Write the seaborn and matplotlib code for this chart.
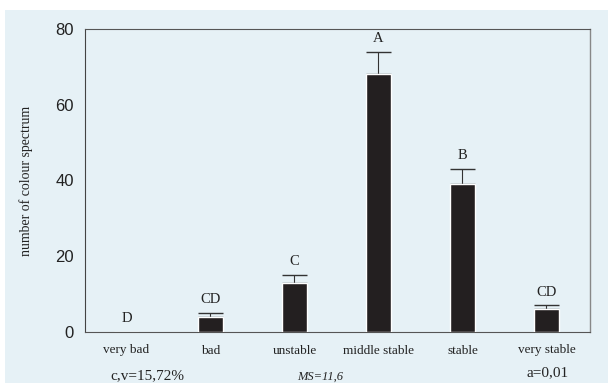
import matplotlib
matplotlib.use("Agg")
import matplotlib.pyplot as plt
import seaborn as sns
import pandas as pd
from matplotlib.patches import Rectangle

# data
categories = ["very bad", "bad", "unstable", "middle stable", "stable", "very stable"]
means = [0, 4, 13, 68, 39, 6]
errors = [0, 1, 2, 6, 4, 1]
letters = ["D", "CD", "C", "A", "B", "CD"]
y_ticks = [0, 20, 40, 60, 80]

sns.set_style("white")
plt.rcParams["font.family"] = ["Liberation Serif", "DejaVu Serif"]

panel = "#e6f1f6"
bar_color = "#231f20"

fig = plt.figure(figsize=(6.08, 3.83), dpi=100)
fig.patch.set_facecolor("white")
fig.patches.append(Rectangle((5 / 608, 0), 1, (383 - 10) / 383, transform=fig.transFigure,
                             facecolor=panel, edgecolor="none", zorder=-10))

ax = fig.add_axes([85 / 608, (383 - 332) / 383, (590 - 85) / 608, (332 - 29) / 383])
ax.set_facecolor(panel)

df = pd.DataFrame({"category": categories, "value": means})
sns.barplot(data=df, x="category", y="value", color=bar_color, width=0.3,
            saturation=1, ax=ax, zorder=3)

# upward error bars only
xs = [i for i, e in enumerate(errors) if e > 0]
ax.errorbar(xs, [means[i] for i in xs], yerr=[[0] * len(xs), [errors[i] for i in xs]],
            fmt="none", ecolor="#333333", elinewidth=0.8, capsize=9, capthick=1.0, zorder=2)

# significance letters
for i, (m, e, lab) in enumerate(zip(means, errors, letters)):
    ax.annotate(lab, (i, m + e), xytext=(0, 5), textcoords="offset points",
                ha="center", va="bottom", fontsize=10.5, color="#222222")

ax.set_xlim(-0.494, 5.518)
ax.set_ylim(0, 80)
ax.set_yticks(y_ticks)
ax.set_yticklabels([str(t) for t in y_ticks], family="Liberation Sans", fontsize=12,
                   color="#222222")
ax.set_xlabel("")
ax.set_ylabel("number of colour spectrum", fontsize=10, color="#222222", labelpad=16)
ax.tick_params(axis="both", length=0)
ax.tick_params(axis="x", pad=9, labelsize=9.5, labelcolor="#222222")
ax.tick_params(axis="y", pad=8)

for side in ["top", "bottom"]:
    ax.spines[side].set_linestyle((0, (1, 1)))
    ax.spines[side].set_color("#555555")
    ax.spines[side].set_linewidth(0.8)
ax.spines["left"].set_color("#444444")
ax.spines["left"].set_linewidth(0.8)
ax.spines["right"].set_color("#888888")
ax.spines["right"].set_linewidth(1.0)

# notes under the axis
fig.text(147 / 608, 1 - 376 / 383, "c,v=15,72%", ha="center", va="center", fontsize=11,
         color="#222222")
fig.text(320 / 608, 1 - 377 / 383, "MS=11,6", ha="center", va="center", fontsize=9,
         style="italic", color="#222222")
fig.text(548 / 608, 1 - 373 / 383, "a=0,01", ha="center", va="center", fontsize=11,
         color="#222222")

fig.savefig("out.png", dpi=100, facecolor=fig.get_facecolor())
